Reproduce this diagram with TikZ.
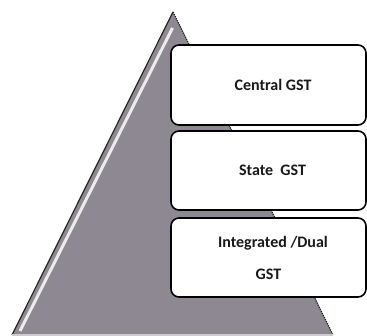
\documentclass[tikz,border=0pt]{standalone}
\usepackage{fontspec}
\setmainfont{Carlito}
\definecolor{pyr}{RGB}{142,136,146}
\definecolor{txt}{RGB}{25,25,25}
\tikzset{
  layerbox/.style={draw=black, line width=1.6pt, rounded corners=8pt, fill=white,
    minimum width=195pt, inner sep=0pt, text=txt, font=\bfseries\fontsize{16}{19}\selectfont, align=center},
}
\begin{document}
\begin{tikzpicture}[x=1pt,y=-1pt]
\useasboundingbox (0,0) rectangle (367,336);
% pyramid
\coordinate (apex) at (173,12);
\coordinate (bl) at (12,335);
\coordinate (br) at (333,335);
\fill[pyr] (apex) -- (br) -- (bl) -- cycle;
\draw[black!85, line width=1.2pt] (apex) -- (bl);
\draw[black!85, line width=1.3pt, densely dotted] (apex) -- (br);
\draw[white!92!black, line width=3pt] (172.5,28) -- (20,331);
\draw[gray!40, line width=1.5pt] (12,335) -- (333,335);
% boxes
\node[layerbox, minimum height=80pt] (central) at (268.5,85) {\hspace*{9pt}Central GST};
\node[layerbox, minimum height=79pt] (state) at (268.5,170.5) {\hspace*{8pt}State\ \ GST};
\node[layerbox, minimum height=79pt] (dual) at (268.5,257.5) {\hspace*{9pt}Integrated /Dual\\[13pt] GST};
\end{tikzpicture}
\end{document}
